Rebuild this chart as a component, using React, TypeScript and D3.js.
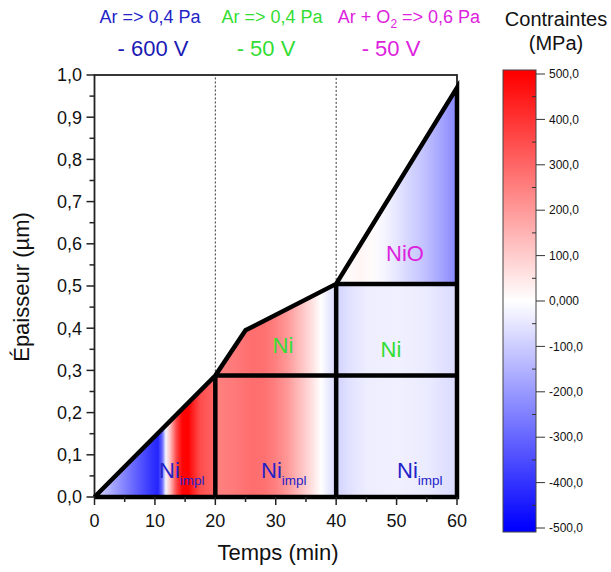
import React from "react";
import * as d3 from "d3";

// ---- data ----
const boundaryTimes = [0, 20, 25, 40, 60];
const boundaryThickness = [0, 0.288, 0.395, 0.505, 0.97];
const niInterface = 0.288;
const nioInterface = 0.505;

// stress profile (MPa) along time for Ni_impl / Ni layers
const layerTimes = [0, 2, 4, 6, 8, 9.5, 10.5, 11.2, 11.8, 12.5, 13.5, 14.5, 15.5, 16.5, 17.5, 19, 20, 20, 23, 26, 28, 30, 32, 34, 36, 37.5, 39, 40, 40, 42, 45, 50, 55, 58, 60];
const layerStress = [-70, -140, -210, -280, -350, -400, -430, -300, -20, 120, 350, 490, 500, 420, 350, 320, 300, 250, 260, 285, 280, 250, 200, 130, 60, 0, -50, -70, -90, -60, -35, -30, -40, -60, -70];
// stress profile for NiO layer
const nioTimes = [40, 42, 44, 46, 48, 50, 52, 54, 56, 58, 60];
const nioStress = [-20, 10, 20, 5, -20, -50, -80, -110, -150, -190, -240];

const xTicks = [0, 10, 20, 30, 40, 50, 60];
const xMinor = [5, 15, 25, 35, 45, 55];
const yTicks = [0, 0.1, 0.2, 0.3, 0.4, 0.5, 0.6, 0.7, 0.8, 0.9, 1.0];
const yMinor = [0.05, 0.15, 0.25, 0.35, 0.45, 0.55, 0.65, 0.75, 0.85, 0.95];
const cbTicks = [500, 400, 300, 200, 100, 0, -100, -200, -300, -400, -500];
const cbTickLabels = ["500,0", "400,0", "300,0", "200,0", "100,0", "0,000", "-100,0", "-200,0", "-300,0", "-400,0", "-500,0"];
const cbMinor = [450, 350, 250, 150, 50, -50, -150, -250, -350, -450];

const FONT = "'Liberation Sans', Arial, sans-serif";
const BLUE = "#2323c8";
const GREEN = "#33dd33";
const MAGENTA = "#dd22dd";

export default function App() {
  const x = d3.scaleLinear().domain([0, 60]).range([94.5, 457]);
  const y = d3.scaleLinear().domain([0, 1]).range([497, 75]);
  const color = d3.scaleLinear<string>().domain([-500, 0, 500]).range(["#0000ff", "#ffffff", "#ff0000"]).clamp(true);
  const cb = d3.scaleLinear().domain([-500, 500]).range([528, 74]);
  const fmt = d3.formatLocale({ decimal: ",", thousands: ".", grouping: [3], currency: ["", ""] }).format(".1f");

  const line = d3.line<[number, number]>().x((d) => x(d[0])).y((d) => y(d[1]));
  const boundary: [number, number][] = boundaryTimes.map((t, i) => [t, boundaryThickness[i]]);
  const layerPoly: [number, number][] = [[0, 0], ...boundary.slice(1, 4), [60, nioInterface], [60, 0]];
  const nioPoly: [number, number][] = [[40, nioInterface], [60, boundaryThickness[4]], [60, nioInterface]];
  const outline: [number, number][] = [...boundary, [60, 0], [0, 0]];

  const x0 = x(0), x1 = x(60);
  const off = (t: number) => (x(t) - x0) / (x1 - x0);

  const cbTop = cb(500) - 4;
  const cbBot = cb(-500) + 4;
  const cbL = 503, cbR = 536;
  const cbStops = d3.range(500, -501, -50);

  return (
    <svg width={611} height={572} style={{ position: "absolute", left: 0, top: 0 }} fontFamily={FONT}>
      <defs>
        <linearGradient id="gLayer" gradientUnits="userSpaceOnUse" x1={x0} x2={x1} y1={0} y2={0}>
          {layerTimes.map((t, i) => (
            <stop key={i} offset={off(t)} stopColor={color(layerStress[i])} />
          ))}
        </linearGradient>
        <linearGradient id="gNiO" gradientUnits="userSpaceOnUse" x1={x0} x2={x1} y1={0} y2={0}>
          {nioTimes.map((t, i) => (
            <stop key={i} offset={off(t)} stopColor={color(nioStress[i])} />
          ))}
        </linearGradient>
        <linearGradient id="gBar" gradientUnits="userSpaceOnUse" x1={0} x2={0} y1={cbTop} y2={cbBot}>
          {cbStops.map((v, i) => (
            <stop key={i} offset={(cb(v) - cbTop) / (cbBot - cbTop)} stopColor={color(v)} />
          ))}
        </linearGradient>
      </defs>

      {/* filled regions */}
      <path d={line(layerPoly) + "Z"} fill="url(#gLayer)" />
      <path d={line(nioPoly) + "Z"} fill="url(#gNiO)" />

      {/* dotted stage separators */}
      <line x1={x(20)} x2={x(20)} y1={y(niInterface)} y2={y(1)} stroke="#333" strokeWidth={1} strokeDasharray="2,2" />
      <line x1={x(40)} x2={x(40)} y1={y(nioInterface)} y2={y(1)} stroke="#333" strokeWidth={1} strokeDasharray="2,2" />

      {/* frame */}
      <rect x={x(0)} y={y(1)} width={x(60) - x(0)} height={y(0) - y(1)} fill="none" stroke="#222" strokeWidth={1.8} />

      {/* thick layer boundaries */}
      <g stroke="#000" strokeWidth={4.5} fill="none" strokeLinejoin="miter">
        <path d={line(outline) ?? ""} />
        <line x1={x(20)} x2={x(60)} y1={y(niInterface)} y2={y(niInterface)} />
        <line x1={x(40)} x2={x(60)} y1={y(nioInterface)} y2={y(nioInterface)} />
        <line x1={x(20)} x2={x(20)} y1={y(0)} y2={y(niInterface)} />
        <line x1={x(40)} x2={x(40)} y1={y(0)} y2={y(nioInterface)} />
      </g>

      {/* axis ticks */}
      <g stroke="#222" strokeWidth={1.5}>
        {xTicks.map((t) => (
          <line key={t} x1={x(t)} x2={x(t)} y1={y(0)} y2={y(0) + 8} />
        ))}
        {xMinor.map((t) => (
          <line key={t} x1={x(t)} x2={x(t)} y1={y(0)} y2={y(0) + 5} />
        ))}
        {yTicks.map((t) => (
          <line key={t} x1={x(0) - 8} x2={x(0)} y1={y(t)} y2={y(t)} />
        ))}
        {yMinor.map((t) => (
          <line key={t} x1={x(0) - 5} x2={x(0)} y1={y(t)} y2={y(t)} />
        ))}
      </g>
      <g fontSize={18} fill="#111">
        {xTicks.map((t) => (
          <text key={t} x={x(t)} y={527} textAnchor="middle">{t}</text>
        ))}
        {yTicks.map((t) => (
          <text key={t} x={82} y={y(t)} dy="0.36em" textAnchor="end">{fmt(t)}</text>
        ))}
      </g>
      <text x={278} y={560} textAnchor="middle" fontSize={22} fill="#111">Temps (min)</text>
      <text transform={`translate(29,287) rotate(-90)`} textAnchor="middle" fontSize={22} fill="#111">Épaisseur (µm)</text>

      {/* stage labels */}
      <g fontSize={18}>
        <text x={150} y={23} textAnchor="middle" fill={BLUE}>Ar =&gt; 0,4 Pa</text>
        <text x={272} y={23} textAnchor="middle" fill={GREEN}>Ar =&gt; 0,4 Pa</text>
        <text x={409} y={23} textAnchor="middle" fill={MAGENTA}>
          Ar + O<tspan fontSize={12} dy={5}>2</tspan><tspan dy={-5}> =&gt; 0,6 Pa</tspan>
        </text>
      </g>
      <g fontSize={22}>
        <text x={153} y={56} textAnchor="middle" fill="#1a1ab4">- 600 V</text>
        <text x={266} y={56} textAnchor="middle" fill={GREEN}>- 50 V</text>
        <text x={391} y={56} textAnchor="middle" fill={MAGENTA}>- 50 V</text>
      </g>

      {/* layer labels */}
      <g fontSize={22} fill={BLUE}>
        <text x={159} y={478}>Ni<tspan fontSize={13.5} dy={7}>impl</tspan></text>
        <text x={261} y={478}>Ni<tspan fontSize={13.5} dy={7}>impl</tspan></text>
        <text x={397} y={478}>Ni<tspan fontSize={13.5} dy={7}>impl</tspan></text>
      </g>
      <g fontSize={22}>
        <text x={283} y={353} textAnchor="middle" fill={GREEN}>Ni</text>
        <text x={391} y={357} textAnchor="middle" fill={GREEN}>Ni</text>
        <text x={405} y={261} textAnchor="middle" fill={MAGENTA}>NiO</text>
      </g>

      {/* colour bar */}
      <text x={556} y={26} textAnchor="middle" fontSize={20} fill="#111">Contraintes</text>
      <text x={556} y={50} textAnchor="middle" fontSize={20} fill="#111">(MPa)</text>
      <rect x={cbL} y={cbTop} width={cbR - cbL} height={cbBot - cbTop} fill="url(#gBar)" stroke="#444" strokeWidth={1} />
      <g stroke="#333" strokeWidth={1}>
        {cbTicks.map((v) => (
          <line key={v} x1={cbR} x2={cbR + 9} y1={cb(v)} y2={cb(v)} />
        ))}
        {cbMinor.map((v) => (
          <line key={v} x1={cbR - 4} x2={cbR} y1={cb(v)} y2={cb(v)} />
        ))}
      </g>
      <g fontSize={12} fill="#111">
        {cbTicks.map((v, i) => (
          <text key={v} x={549} y={cb(v)} dy="0.35em">{cbTickLabels[i]}</text>
        ))}
      </g>
    </svg>
  );
}
